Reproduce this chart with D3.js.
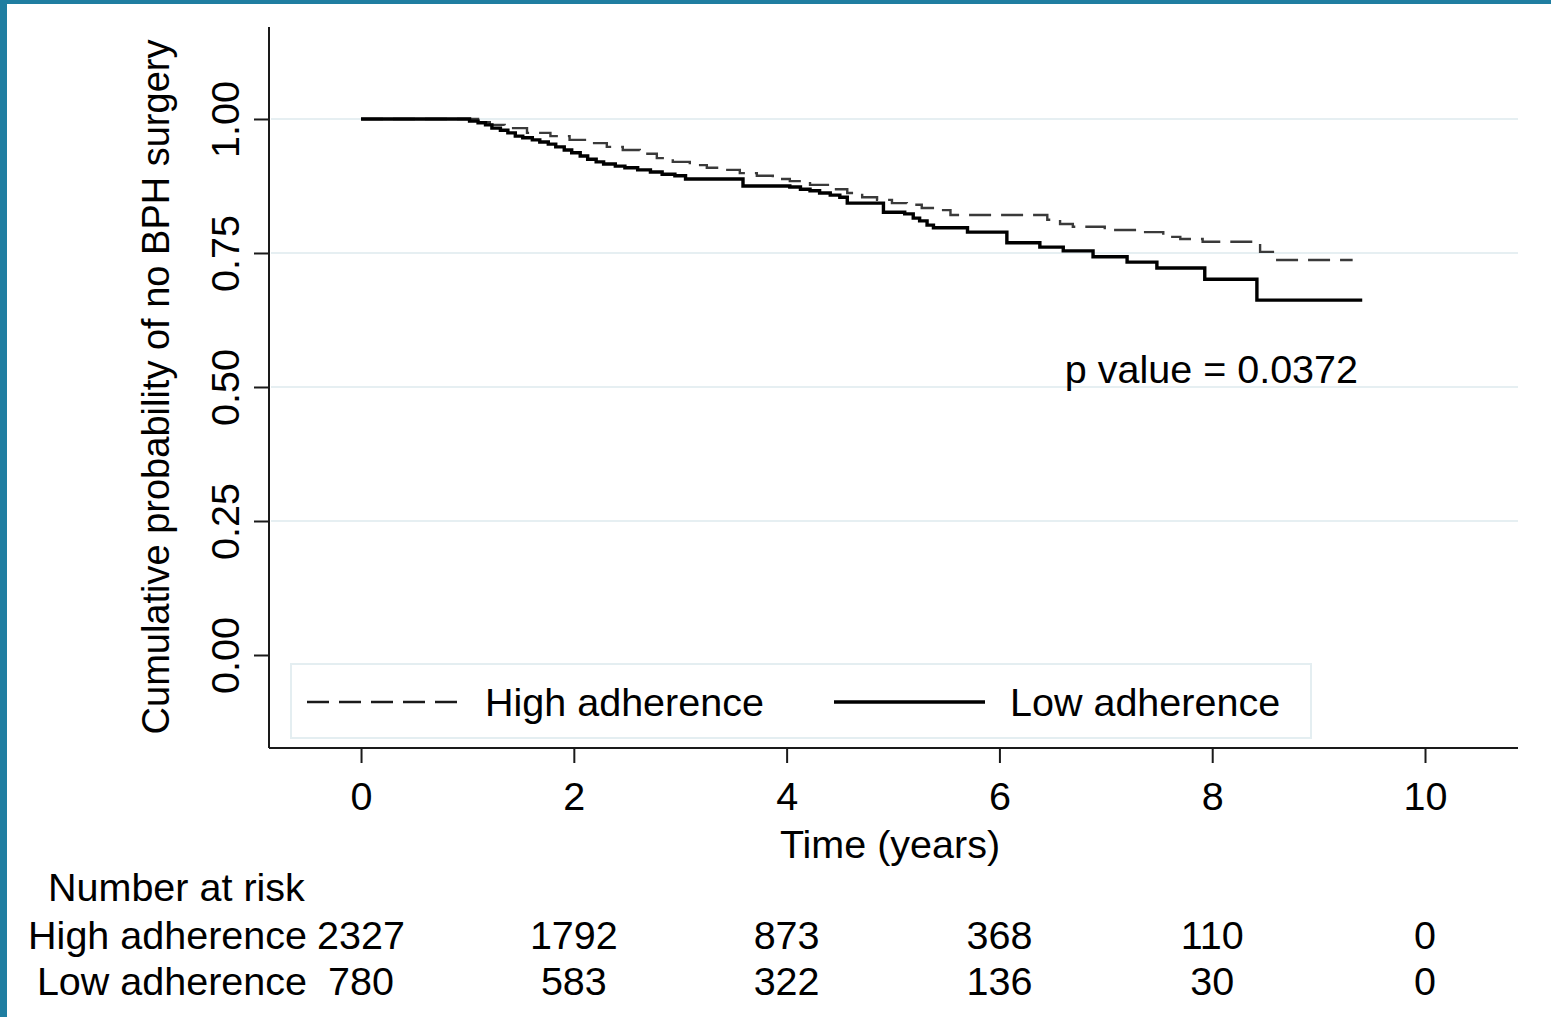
<!DOCTYPE html>
<html>
<head>
<meta charset="utf-8">
<script src="https://cdn.jsdelivr.net/npm/d3@7"></script>
<style>
  html, body { margin: 0; padding: 0; background: #fff; }
  svg { display: block; font-family: "Liberation Sans", Arial, sans-serif; }
</style>
</head>
<body>
<svg id="chart" width="1551" height="1017"></svg>
<script>
// Kaplan-Meier estimates (time in years, survival after the step)
const lowTime = [0, 1.01, 1.02, 1.10, 1.17, 1.23, 1.31, 1.38, 1.45, 1.52, 1.61, 1.68, 1.76, 1.83, 1.91, 1.98,
    2.06, 2.13, 2.21, 2.28, 2.39, 2.48, 2.60, 2.72, 2.83, 2.95, 3.05, 3.59, 4.03, 4.13, 4.22, 4.31, 4.41,
    4.50, 4.57, 4.91, 5.11, 5.19, 5.25, 5.32, 5.38, 5.70, 6.07, 6.38, 6.60, 6.88, 7.20, 7.48, 7.93, 8.42, 9.41];
const lowSurv = [1, 1, 0.996, 0.993, 0.989, 0.983, 0.979, 0.974, 0.968, 0.965, 0.961, 0.957, 0.953, 0.948, 0.942, 0.937,
    0.931, 0.925, 0.920, 0.916, 0.912, 0.909, 0.905, 0.901, 0.897, 0.894, 0.888, 0.875, 0.873, 0.869, 0.866, 0.862, 0.858,
    0.854, 0.843, 0.826, 0.823, 0.815, 0.810, 0.802, 0.797, 0.789, 0.769, 0.761, 0.754, 0.743, 0.733, 0.722, 0.701, 0.662, 0.662];

const highTime = [0, 1.01, 1.10, 1.21, 1.35, 1.56, 1.78, 1.96, 2.15, 2.31, 2.46, 2.62, 2.78, 2.93, 3.09, 3.25,
    3.40, 3.56, 3.72, 3.87, 4.03, 4.22, 4.41, 4.57, 4.71, 4.85, 4.99, 5.13, 5.27, 5.41, 5.54, 6.45, 6.57,
    6.69, 6.99, 7.32, 7.54, 7.70, 7.91, 8.45, 8.59, 9.32];
const highSurv = [1, 1, 0.994, 0.989, 0.983, 0.974, 0.968, 0.961, 0.955, 0.948, 0.942, 0.935, 0.927, 0.920, 0.914, 0.909,
    0.905, 0.899, 0.894, 0.888, 0.884, 0.877, 0.869, 0.862, 0.854, 0.849, 0.843, 0.840, 0.834, 0.830, 0.821, 0.812, 0.804,
    0.799, 0.793, 0.789, 0.780, 0.776, 0.771, 0.752, 0.737, 0.737];

const xTicks = [0, 2, 4, 6, 8, 10];
const yTicks = [0, 0.25, 0.5, 0.75, 1];
const gridTicks = [0.25, 0.5, 0.75, 1];

const riskTimes = [0, 2, 4, 6, 8, 10];
const highRisk = [2327, 1792, 873, 368, 110, 0];
const lowRisk = [780, 583, 322, 136, 30, 0];

const svg = d3.select("#chart");
const fontSize = 39.5;

// blue frame on top and left
svg.append("rect").attr("x", 0).attr("y", 0).attr("width", 1551).attr("height", 4).attr("fill", "#1f7ea1");
svg.append("rect").attr("x", 0).attr("y", 0).attr("width", 7).attr("height", 1017).attr("fill", "#1f7ea1");

const x = d3.scaleLinear().domain([-0.865, 10.874]).range([269, 1518]);
const y = d3.scaleLinear().domain([-0.1735, 1.1716]).range([748, 27]);

// grid lines
svg.append("g").selectAll("line")
    .data(gridTicks)
    .join("line")
    .attr("x1", 271).attr("x2", 1518)
    .attr("y1", d => y(d)).attr("y2", d => y(d))
    .attr("stroke", "#e6eff2")
    .attr("stroke-width", 2);

// curves
const line = d3.line()
    .x(d => x(d[0]))
    .y(d => y(d[1]))
    .curve(d3.curveStepAfter);

svg.append("path")
    .datum(highTime.map((t, i) => [t, highSurv[i]]))
    .attr("d", line)
    .attr("fill", "none")
    .attr("stroke", "#3a3a3a")
    .attr("stroke-width", 2.4)
    .attr("stroke-dasharray", "22,10");

svg.append("path")
    .datum(lowTime.map((t, i) => [t, lowSurv[i]]))
    .attr("d", line)
    .attr("fill", "none")
    .attr("stroke", "#000")
    .attr("stroke-width", 3.4);

// axes
const yAxis = svg.append("g")
    .attr("transform", "translate(269,0)")
    .call(d3.axisLeft(y).tickValues(yTicks).tickSize(15).tickFormat(d3.format(".2f")));

yAxis.select(".domain").attr("d", `M0,${y(1.1716)}V${y(-0.1735)}`);
yAxis.selectAll("text")
    .attr("x", null).attr("dy", null)
    .attr("transform", "translate(-30,0) rotate(-90)")
    .attr("text-anchor", "middle")
    .attr("font-size", fontSize)
    .attr("fill", "#000");

const xAxis = svg.append("g")
    .attr("transform", "translate(0,748)")
    .call(d3.axisBottom(x).tickValues(xTicks).tickSize(15));

xAxis.select(".domain").attr("d", `M${x(-0.865)},0H${x(10.874)}`);
xAxis.selectAll("text")
    .attr("y", 62).attr("dy", null)
    .attr("font-size", fontSize)
    .attr("fill", "#000");

svg.selectAll(".domain, .tick line")
    .attr("stroke", "#1a1a1a")
    .attr("stroke-width", 2);

// axis titles
svg.append("text")
    .attr("transform", "translate(169,387) rotate(-90)")
    .attr("text-anchor", "middle")
    .attr("font-size", 38)
    .text("Cumulative probability of no BPH surgery");

svg.append("text")
    .attr("x", 890).attr("y", 858)
    .attr("text-anchor", "middle")
    .attr("font-size", fontSize)
    .text("Time (years)");

svg.append("text")
    .attr("x", 1358).attr("y", 383)
    .attr("text-anchor", "end")
    .attr("font-size", fontSize)
    .text("p value = 0.0372");

// legend
const legend = svg.append("g");
legend.append("rect")
    .attr("x", 291).attr("y", 664)
    .attr("width", 1020).attr("height", 74)
    .attr("fill", "#fff")
    .attr("stroke", "#e4eef1")
    .attr("stroke-width", 2);

legend.append("line")
    .attr("x1", 307).attr("x2", 460).attr("y1", 702).attr("y2", 702)
    .attr("stroke", "#1a1a1a").attr("stroke-width", 2.4).attr("stroke-dasharray", "22,10");
legend.append("text")
    .attr("x", 485).attr("y", 716)
    .attr("font-size", fontSize)
    .text("High adherence");

legend.append("line")
    .attr("x1", 834).attr("x2", 985).attr("y1", 702).attr("y2", 702)
    .attr("stroke", "#000").attr("stroke-width", 3.4);
legend.append("text")
    .attr("x", 1010).attr("y", 716)
    .attr("font-size", fontSize)
    .text("Low adherence");

// number at risk table
svg.append("text")
    .attr("x", 48).attr("y", 901)
    .attr("font-size", fontSize)
    .text("Number at risk");

const rows = [
    {label: "High adherence", values: highRisk, y: 949},
    {label: "Low adherence", values: lowRisk, y: 995}
];

rows.forEach(row => {
    svg.append("text")
        .attr("x", 307).attr("y", row.y)
        .attr("text-anchor", "end")
        .attr("font-size", fontSize)
        .text(row.label);

    svg.append("g").selectAll("text")
        .data(row.values)
        .join("text")
        .attr("x", (d, i) => x(riskTimes[i]))
        .attr("y", row.y)
        .attr("text-anchor", "middle")
        .attr("font-size", fontSize)
        .text(d => d);
});
</script>
</body>
</html>
